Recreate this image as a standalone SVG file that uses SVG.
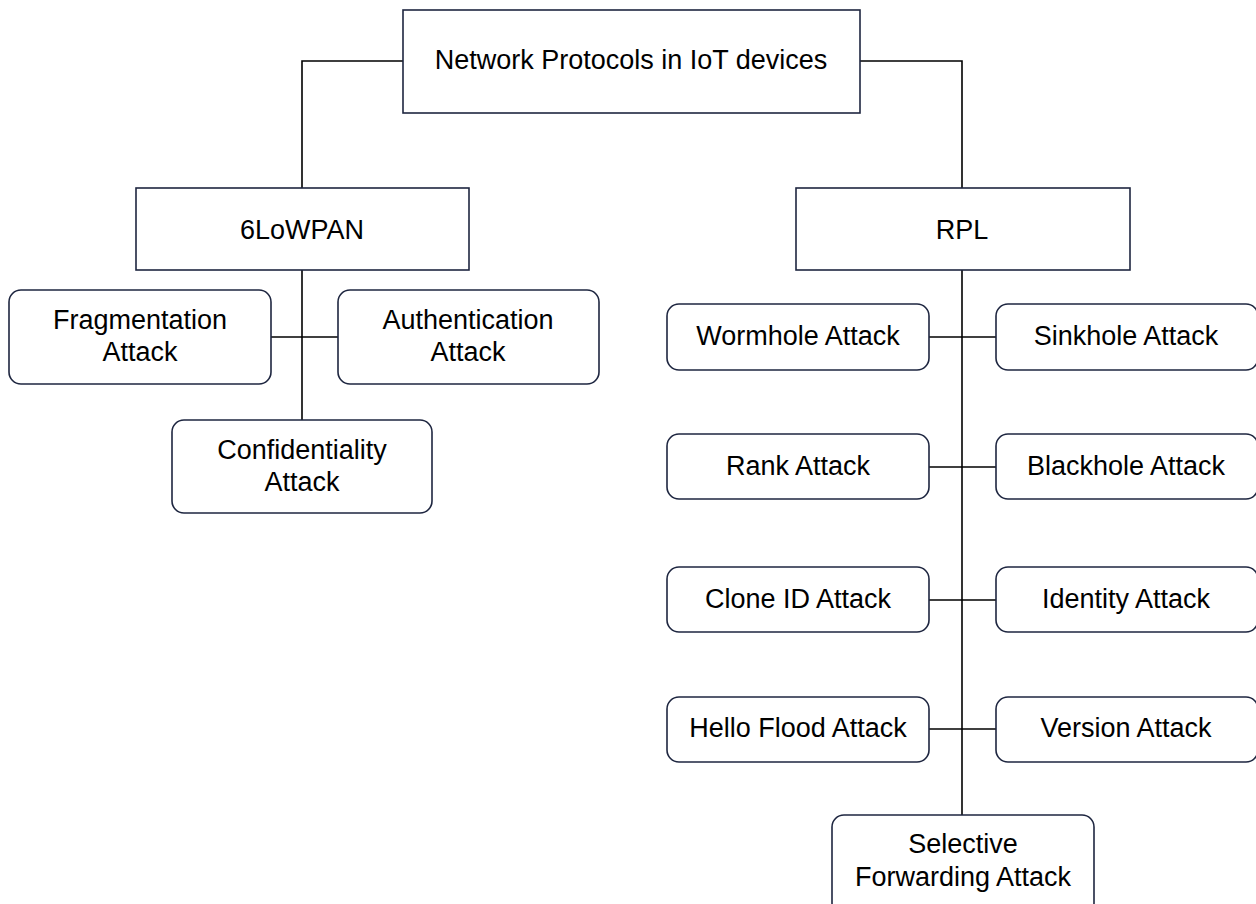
<svg xmlns="http://www.w3.org/2000/svg" width="1256" height="904" viewBox="0 0 1256 904">
  <style>
    .box { fill: #ffffff; stroke: #1e2640; stroke-width: 1.6; }
    .rbox { fill: #ffffff; stroke: #1e2640; stroke-width: 1.6; }
    .lbl { font-family: "Liberation Sans", Arial, sans-serif; font-size: 27px; fill: #000000; text-anchor: middle; dominant-baseline: central; }
    .wire { fill: none; stroke: #000000; stroke-width: 1.6; }
  </style>
  <rect width="1256" height="904" fill="#ffffff"/>

  <!-- connectors -->
  <g id="connectors">
    <path class="wire" d="M403 61 H302 V188"/>
    <path class="wire" d="M860 61 H962 V188"/>
    <path class="wire" d="M302 270 V420"/>
    <path class="wire" d="M271 337 H338"/>
    <path class="wire" d="M962 270 V815"/>
    <path class="wire" d="M929 337 H996"/>
    <path class="wire" d="M929 467 H996"/>
    <path class="wire" d="M929 600 H996"/>
    <path class="wire" d="M929 729 H996"/>
  </g>

  <!-- root -->
  <g id="root">
    <rect class="box" x="403" y="10" width="457" height="103"/>
    <text class="lbl" x="631" y="60">Network Protocols in IoT devices</text>
  </g>

  <!-- 6LoWPAN branch -->
  <g id="lowpan">
    <rect class="box" x="136" y="188" width="333" height="82"/>
    <text class="lbl" x="302" y="230">6LoWPAN</text>
  </g>
  <g id="fragmentation">
    <rect class="rbox" x="9" y="290" width="262" height="94" rx="12"/>
    <text class="lbl" x="140" y="320">Fragmentation</text>
    <text class="lbl" x="140" y="352">Attack</text>
  </g>
  <g id="authentication">
    <rect class="rbox" x="338" y="290" width="261" height="94" rx="12"/>
    <text class="lbl" x="468" y="320">Authentication</text>
    <text class="lbl" x="468" y="352">Attack</text>
  </g>
  <g id="confidentiality">
    <rect class="rbox" x="172" y="420" width="260" height="93" rx="12"/>
    <text class="lbl" x="302" y="450">Confidentiality</text>
    <text class="lbl" x="302" y="482">Attack</text>
  </g>

  <!-- RPL branch -->
  <g id="rpl">
    <rect class="box" x="796" y="188" width="334" height="82"/>
    <text class="lbl" x="962" y="230">RPL</text>
  </g>
  <g id="wormhole">
    <rect class="rbox" x="667" y="304" width="262" height="66" rx="12"/>
    <text class="lbl" x="798" y="336">Wormhole Attack</text>
  </g>
  <g id="sinkhole">
    <rect class="rbox" x="996" y="304" width="262" height="66" rx="12"/>
    <text class="lbl" x="1126" y="336">Sinkhole Attack</text>
  </g>
  <g id="rank">
    <rect class="rbox" x="667" y="434" width="262" height="65" rx="12"/>
    <text class="lbl" x="798" y="466">Rank Attack</text>
  </g>
  <g id="blackhole">
    <rect class="rbox" x="996" y="434" width="262" height="65" rx="12"/>
    <text class="lbl" x="1126" y="466">Blackhole Attack</text>
  </g>
  <g id="cloneid">
    <rect class="rbox" x="667" y="567" width="262" height="65" rx="12"/>
    <text class="lbl" x="798" y="599">Clone ID Attack</text>
  </g>
  <g id="identity">
    <rect class="rbox" x="996" y="567" width="262" height="65" rx="12"/>
    <text class="lbl" x="1126" y="599">Identity Attack</text>
  </g>
  <g id="helloflood">
    <rect class="rbox" x="667" y="697" width="262" height="65" rx="12"/>
    <text class="lbl" x="798" y="728">Hello Flood Attack</text>
  </g>
  <g id="version">
    <rect class="rbox" x="996" y="697" width="262" height="65" rx="12"/>
    <text class="lbl" x="1126" y="728">Version Attack</text>
  </g>
  <g id="selective">
    <rect class="rbox" x="832" y="815" width="262" height="100" rx="12"/>
    <text class="lbl" x="963" y="844">Selective</text>
    <text class="lbl" x="963" y="877">Forwarding Attack</text>
  </g>
</svg>
